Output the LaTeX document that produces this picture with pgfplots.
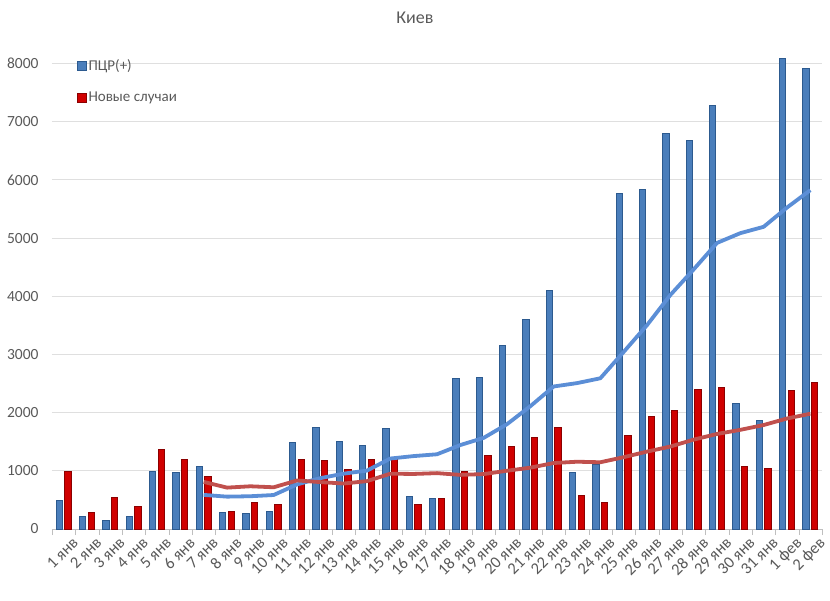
\documentclass[border=0pt]{standalone}
\usepackage{fontspec}
\setmainfont{Carlito}
\usepackage{pgfplots}
\pgfplotsset{compat=1.18}
\usepackage{pgfplotstable}

\definecolor{barblue}{HTML}{4A7EBB}
\definecolor{edgeblue}{HTML}{2C5A8F}
\definecolor{barred}{HTML}{D00000}
\definecolor{edgered}{HTML}{8B0000}
\definecolor{lineblue}{HTML}{5B8ED6}
\definecolor{linered}{HTML}{C0504D}
\definecolor{txtgray}{HTML}{595959}

\newcommand\xf{\fontsize{16.5}{18}\selectfont}
\newcommand\yf{\fontsize{15.5}{17}\selectfont}

% day index, PCR(+), new cases
\pgfplotstableread{
x pcr cases
0 490 990
1 220 290
2 150 540
3 210 380
4 990 1370
5 970 1190
6 1070 910
7 280 300
8 270 450
9 300 420
10 1480 1200
11 1750 1170
12 1510 1020
13 1440 1200
14 1730 1190
15 560 420
16 520 520
17 2590 990
18 2610 1270
19 3160 1420
20 3600 1570
21 4100 1750
22 970 570
23 1100 460
24 5760 1600
25 5830 1940
26 6790 2030
27 6680 2400
28 7280 2430
29 2150 1070
30 1860 1040
31 8080 2380
32 7920 2520
}\daily

% 7-day averages
\pgfplotstableread{
x pcr cases
6 586 810
7 556 711
8 563 734
9 584 717
10 766 834
11 874 806
12 951 781
13 1004 823
14 1211 950
15 1253 946
16 1284 960
17 1443 930
18 1566 944
19 1801 1001
20 2110 1054
21 2449 1134
22 2507 1156
23 2590 1147
24 3043 1234
25 3503 1330
26 4021 1417
27 4461 1536
28 4916 1633
29 5084 1704
30 5193 1787
31 5524 1899
32 5823 1981
}\avg

\begin{document}
\begin{tikzpicture}
\useasboundingbox (-52pt,-71pt) rectangle (778pt,529pt);
\begin{axis}[
    at={(0,0)}, anchor=south west,
    scale only axis,
    width=770pt, height=483pt,
    xmin=-0.5, xmax=32.5,
    ymin=0, ymax=8300,
    ytick={0,1000,...,8000},
    yticklabels={{\yf 0},{\yf 1000},{\yf 2000},{\yf 3000},{\yf 4000},
      {\yf 5000},{\yf 6000},{\yf 7000},{\yf 8000}},
    xtick={0,...,32},
    xticklabels={{\xf 1 янв},{\xf 2 янв},{\xf 3 янв},{\xf 4 янв},{\xf 5 янв},
      {\xf 6 янв},{\xf 7 янв},{\xf 8 янв},{\xf 9 янв},{\xf 10 янв},
      {\xf 11 янв},{\xf 12 янв},{\xf 13 янв},{\xf 14 янв},{\xf 15 янв},
      {\xf 16 янв},{\xf 17 янв},{\xf 18 янв},{\xf 19 янв},{\xf 20 янв},
      {\xf 21 янв},{\xf 22 янв},{\xf 23 янв},{\xf 24 янв},{\xf 25 янв},
      {\xf 26 янв},{\xf 27 янв},{\xf 28 янв},{\xf 29 янв},{\xf 30 янв},
      {\xf 31 янв},{\xf 1 фев},{\xf 2 фев}},
    minor xtick={-0.5,0.5,...,32.5},
    major tick length=0pt,
    minor tick length=6pt,
    tick align=outside,
    minor tick style={gray!50},
    axis x line*=bottom,
    axis y line*=left,
    x axis line style={gray!50,-},
    y axis line style={draw=none},
    ymajorgrids,
    grid style={gray!25, line width=0.8pt},
    tick label style={text=txtgray},
    x tick label style={rotate=45, anchor=north east, inner sep=0.5pt, xshift=1pt, yshift=-10pt},
    y tick label style={xshift=-10pt},
    title={Киев},
    title style={at={(0.4714,1.045)}, anchor=center, font=\fontsize{18}{20}\selectfont, text=txtgray},
    ybar, bar width=6.5pt,
    legend style={at={(0.028,0.98)}, anchor=north west, draw=none, fill=none,
      font=\fontsize{15}{17}\selectfont, text=txtgray, row sep=16pt, cells={anchor=west}},
    legend image code/.code={\draw[#1, line width=0.8pt] (0pt,-4.5pt) rectangle (9pt,4.5pt);},
]
\addplot[fill=barblue, draw=edgeblue, line width=1pt, bar shift=-4.3pt] table[x=x, y=pcr] {\daily};
\addlegendentry{ПЦР(+)}
\addplot[fill=barred, draw=edgered, line width=1pt, bar shift=4.3pt] table[x=x, y=cases] {\daily};
\addlegendentry{Новые случаи}
\addplot[sharp plot, lineblue, line width=3.8pt, line join=round, forget plot] table[x=x, y=pcr] {\avg};
\addplot[sharp plot, linered, line width=3.8pt, line join=round, forget plot] table[x=x, y=cases] {\avg};
\end{axis}
\end{tikzpicture}
\end{document}
